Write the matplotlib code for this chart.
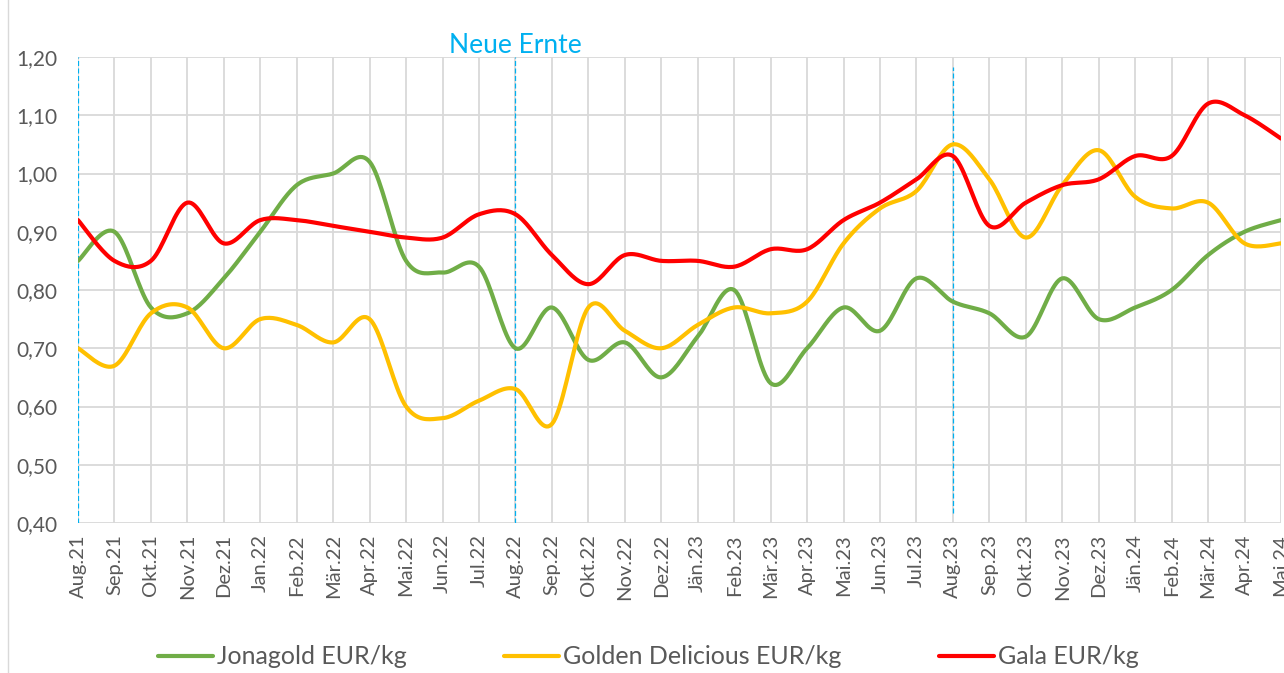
import numpy as np
import matplotlib.pyplot as plt
from matplotlib.patches import Rectangle

months = ["Aug.21", "Sep.21", "Okt.21", "Nov.21", "Dez.21", "Jan.22", "Feb.22",
          "Mär.22", "Apr.22", "Mai.22", "Jun.22", "Jul.22", "Aug.22", "Sep.22",
          "Okt.22", "Nov.22", "Dez.22", "Jän.23", "Feb.23", "Mär.23", "Apr.23",
          "Mai.23", "Jun.23", "Jul.23", "Aug.23", "Sep.23", "Okt.23", "Nov.23",
          "Dez.23", "Jän.24", "Feb.24", "Mär.24", "Apr.24", "Mai.24"]

jonagold = [0.85, 0.90, 0.77, 0.76, 0.82, 0.90, 0.98, 1.00, 1.02, 0.85, 0.83, 0.84,
            0.70, 0.77, 0.68, 0.71, 0.65, 0.72, 0.80, 0.64, 0.70, 0.77, 0.73, 0.82,
            0.78, 0.76, 0.72, 0.82, 0.75, 0.77, 0.80, 0.86, 0.90, 0.92]
golden = [0.70, 0.67, 0.76, 0.77, 0.70, 0.75, 0.74, 0.71, 0.75, 0.60, 0.58, 0.61,
          0.63, 0.57, 0.77, 0.73, 0.70, 0.74, 0.77, 0.76, 0.78, 0.88, 0.94, 0.97,
          1.05, 0.99, 0.89, 0.98, 1.04, 0.96, 0.94, 0.95, 0.88, 0.88]
gala = [0.92, 0.85, 0.85, 0.95, 0.88, 0.92, 0.92, 0.91, 0.90, 0.89, 0.89, 0.93,
        0.93, 0.86, 0.81, 0.86, 0.85, 0.85, 0.84, 0.87, 0.87, 0.92, 0.95, 0.99,
        1.03, 0.91, 0.95, 0.98, 0.99, 1.03, 1.03, 1.12, 1.10, 1.06]

harvest = [0, 12, 24]


def smooth(y, n=20):
    """Catmull-Rom curve through the points, like Excel's smoothed line"""
    y = np.asarray(y, dtype=float)
    x = np.arange(len(y), dtype=float)
    px = np.concatenate([[x[0]], x, [x[-1]]])
    py = np.concatenate([[y[0]], y, [y[-1]]])
    xs, ys = [], []
    t = np.linspace(0, 1, n, endpoint=False)
    for i in range(1, len(px) - 2):
        for p, out in ((px, xs), (py, ys)):
            p0, p1, p2, p3 = p[i - 1], p[i], p[i + 1], p[i + 2]
            out.extend(0.5 * (2 * p1 + (-p0 + p2) * t
                              + (2 * p0 - 5 * p1 + 4 * p2 - p3) * t ** 2
                              + (-p0 + 3 * p1 - 3 * p2 + p3) * t ** 3))
    xs.append(x[-1])
    ys.append(y[-1])
    return xs, ys


plt.rcParams['font.family'] = ['Lato', 'DejaVu Sans']

fig = plt.figure(figsize=(12.84, 6.73), dpi=100)
ax = fig.add_axes([78 / 1284, 1 - 523 / 673, 1203 / 1284, 466 / 673])

fig.patches.append(Rectangle((8 / 1284, -0.01), 1.0, 1.02, transform=fig.transFigure,
                             fill=False, edgecolor="#d9d9d9", linewidth=1))

ax.plot(*smooth(jonagold), color="#70ad47", lw=3, label="Jonagold EUR/kg",
        solid_capstyle="round", zorder=3)
ax.plot(*smooth(golden), color="#ffc000", lw=3, label="Golden Delicious EUR/kg",
        solid_capstyle="round", zorder=3)
ax.plot(*smooth(gala), color="#ff0000", lw=3, label="Gala EUR/kg",
        solid_capstyle="round", zorder=4)

for i, h in enumerate(harvest):
    lo, hi = (0.021, 0.979) if i == 2 else (0.0, 1.0)
    ax.axvline(h, ymin=lo, ymax=hi, color="#00b0f0", lw=0.9, ls=(0, (4, 2)), zorder=2)
ax.text(harvest[1], 1.219, "Neue Ernte", color="#00b0f0", fontsize=19,
        ha="center", va="center", clip_on=False)

ax.set_xlim(0, len(months) - 1)
ax.set_ylim(0.40, 1.20)
ax.set_xticks(range(len(months)))
ax.set_xticklabels(months, rotation=90, fontsize=14.5, color="#595959")
yt = np.arange(0.40, 1.201, 0.10)
ax.set_yticks(yt)
ax.set_yticklabels([f"{v:.2f}".replace(".", ",") for v in yt], fontsize=15,
                   color="#595959")
ax.tick_params(axis="x", length=0, pad=8)
ax.tick_params(axis="y", length=0, pad=15)
ax.grid(True, color="#d9d9d9", lw=1.3, zorder=0)
ax.set_axisbelow(True)
for s in ax.spines.values():
    s.set_visible(False)

fig.legend(loc="center", bbox_to_anchor=(0.505, 1 - 657 / 673), ncol=3, frameon=False,
           fontsize=18, labelcolor="#595959", handlelength=2.2, handletextpad=0.15,
           columnspacing=3.9)

fig.savefig("out.png", dpi=100)
